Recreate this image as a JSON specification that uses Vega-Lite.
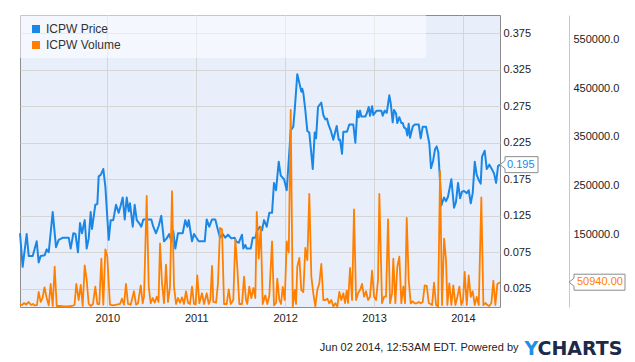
{
  "$schema": "https://vega.github.io/schema/vega-lite/v6.json",
  "width": 480,
  "height": 292,
  "autosize": "none",
  "padding": {"left": 20, "top": 15, "right": 135, "bottom": 55},
  "background": "#ffffff",
  "config": {
    "font": "Liberation Sans",
    "view": {"fill": "#e9effa", "stroke": "#8c8c8c", "strokeWidth": 1},
    "axis": {"labelFont": "Liberation Sans", "labelFontSize": 11, "labelColor": "#222222", "gridColor": "#d5d5d5", "gridOpacity": 1, "ticks": false, "domain": false}
  },
  "datasets": {
    "price": [
      {"year":2009.018,"price":0.101},{"year":2009.048,"price":0.055},{"year":2009.093,"price":0.100},{"year":2009.116,"price":0.070},{"year":2009.161,"price":0.070},{"year":2009.206,"price":0.090},{"year":2009.228,"price":0.061},{"year":2009.251,"price":0.070},{"year":2009.296,"price":0.071},{"year":2009.318,"price":0.079},{"year":2009.341,"price":0.075},{"year":2009.386,"price":0.130},{"year":2009.423,"price":0.082},{"year":2009.453,"price":0.092},{"year":2009.502,"price":0.095},{"year":2009.566,"price":0.095},{"year":2009.588,"price":0.080},{"year":2009.618,"price":0.101},{"year":2009.642,"price":0.100},{"year":2009.670,"price":0.075},{"year":2009.693,"price":0.115},{"year":2009.715,"price":0.101},{"year":2009.746,"price":0.119},{"year":2009.768,"price":0.080},{"year":2009.791,"price":0.094},{"year":2009.813,"price":0.130},{"year":2009.828,"price":0.107},{"year":2009.865,"price":0.140},{"year":2009.888,"price":0.141},{"year":2009.903,"price":0.179},{"year":2009.926,"price":0.181},{"year":2009.955,"price":0.189},{"year":2009.978,"price":0.165},{"year":2010.016,"price":0.092},{"year":2010.038,"price":0.119},{"year":2010.067,"price":0.119},{"year":2010.098,"price":0.140},{"year":2010.128,"price":0.129},{"year":2010.151,"price":0.139},{"year":2010.173,"price":0.150},{"year":2010.196,"price":0.120},{"year":2010.218,"price":0.150},{"year":2010.241,"price":0.131},{"year":2010.255,"price":0.142},{"year":2010.286,"price":0.110},{"year":2010.308,"price":0.140},{"year":2010.331,"price":0.119},{"year":2010.357,"price":0.115},{"year":2010.382,"price":0.110},{"year":2010.405,"price":0.120},{"year":2010.447,"price":0.120},{"year":2010.495,"price":0.120},{"year":2010.517,"price":0.110},{"year":2010.548,"price":0.101},{"year":2010.578,"price":0.111},{"year":2010.607,"price":0.125},{"year":2010.638,"price":0.090},{"year":2010.668,"price":0.094},{"year":2010.697,"price":0.100},{"year":2010.720,"price":0.090},{"year":2010.742,"price":0.104},{"year":2010.765,"price":0.080},{"year":2010.795,"price":0.101},{"year":2010.848,"price":0.101},{"year":2010.877,"price":0.119},{"year":2010.900,"price":0.110},{"year":2010.916,"price":0.119},{"year":2010.953,"price":0.090},{"year":2010.975,"price":0.100},{"year":2011.028,"price":0.090},{"year":2011.096,"price":0.090},{"year":2011.118,"price":0.120},{"year":2011.147,"price":0.110},{"year":2011.178,"price":0.120},{"year":2011.215,"price":0.120},{"year":2011.245,"price":0.105},{"year":2011.268,"price":0.095},{"year":2011.298,"price":0.100},{"year":2011.327,"price":0.095},{"year":2011.358,"price":0.099},{"year":2011.395,"price":0.094},{"year":2011.433,"price":0.095},{"year":2011.448,"price":0.090},{"year":2011.478,"price":0.088},{"year":2011.515,"price":0.099},{"year":2011.530,"price":0.080},{"year":2011.552,"price":0.085},{"year":2011.568,"price":0.080},{"year":2011.613,"price":0.080},{"year":2011.636,"price":0.095},{"year":2011.665,"price":0.095},{"year":2011.687,"price":0.105},{"year":2011.718,"price":0.110},{"year":2011.740,"price":0.105},{"year":2011.763,"price":0.119},{"year":2011.793,"price":0.110},{"year":2011.822,"price":0.129},{"year":2011.853,"price":0.129},{"year":2011.875,"price":0.170},{"year":2011.898,"price":0.160},{"year":2011.928,"price":0.199},{"year":2011.951,"price":0.180},{"year":2011.988,"price":0.175},{"year":2012.018,"price":0.160},{"year":2012.041,"price":0.201},{"year":2012.063,"price":0.242},{"year":2012.092,"price":0.247},{"year":2012.108,"price":0.270},{"year":2012.137,"price":0.319},{"year":2012.160,"price":0.307},{"year":2012.182,"price":0.295},{"year":2012.193,"price":0.299},{"year":2012.205,"price":0.293},{"year":2012.227,"price":0.270},{"year":2012.250,"price":0.241},{"year":2012.272,"price":0.239},{"year":2012.291,"price":0.215},{"year":2012.311,"price":0.189},{"year":2012.333,"price":0.239},{"year":2012.348,"price":0.231},{"year":2012.370,"price":0.274},{"year":2012.407,"price":0.280},{"year":2012.430,"price":0.263},{"year":2012.452,"price":0.257},{"year":2012.471,"price":0.258},{"year":2012.490,"price":0.249},{"year":2012.513,"price":0.242},{"year":2012.542,"price":0.229},{"year":2012.580,"price":0.248},{"year":2012.603,"price":0.229},{"year":2012.618,"price":0.229},{"year":2012.640,"price":0.210},{"year":2012.655,"price":0.240},{"year":2012.696,"price":0.240},{"year":2012.722,"price":0.250},{"year":2012.767,"price":0.250},{"year":2012.790,"price":0.225},{"year":2012.812,"price":0.269},{"year":2012.828,"price":0.260},{"year":2012.843,"price":0.269},{"year":2012.857,"price":0.261},{"year":2012.902,"price":0.261},{"year":2012.918,"price":0.265},{"year":2012.940,"price":0.274},{"year":2012.955,"price":0.262},{"year":2012.978,"price":0.275},{"year":2012.992,"price":0.263},{"year":2013.030,"price":0.269},{"year":2013.082,"price":0.269},{"year":2013.098,"price":0.262},{"year":2013.120,"price":0.269},{"year":2013.143,"price":0.266},{"year":2013.172,"price":0.290},{"year":2013.188,"price":0.279},{"year":2013.210,"price":0.253},{"year":2013.225,"price":0.270},{"year":2013.248,"price":0.265},{"year":2013.262,"price":0.252},{"year":2013.285,"price":0.260},{"year":2013.307,"price":0.252},{"year":2013.323,"price":0.252},{"year":2013.338,"price":0.246},{"year":2013.360,"price":0.244},{"year":2013.375,"price":0.235},{"year":2013.390,"price":0.251},{"year":2013.405,"price":0.232},{"year":2013.435,"price":0.247},{"year":2013.458,"price":0.250},{"year":2013.503,"price":0.250},{"year":2013.525,"price":0.231},{"year":2013.548,"price":0.247},{"year":2013.568,"price":0.247},{"year":2013.585,"price":0.247},{"year":2013.622,"price":0.224},{"year":2013.641,"price":0.190},{"year":2013.664,"price":0.200},{"year":2013.686,"price":0.216},{"year":2013.705,"price":0.220},{"year":2013.723,"price":0.212},{"year":2013.735,"price":0.188},{"year":2013.757,"price":0.139},{"year":2013.787,"price":0.150},{"year":2013.810,"price":0.145},{"year":2013.832,"price":0.151},{"year":2013.870,"price":0.175},{"year":2013.900,"price":0.136},{"year":2013.922,"price":0.144},{"year":2013.945,"price":0.170},{"year":2013.968,"price":0.149},{"year":2013.990,"price":0.158},{"year":2014.012,"price":0.159},{"year":2014.043,"price":0.156},{"year":2014.065,"price":0.160},{"year":2014.088,"price":0.142},{"year":2014.110,"price":0.156},{"year":2014.133,"price":0.199},{"year":2014.155,"price":0.181},{"year":2014.178,"price":0.174},{"year":2014.200,"price":0.169},{"year":2014.215,"price":0.206},{"year":2014.245,"price":0.214},{"year":2014.268,"price":0.189},{"year":2014.297,"price":0.195},{"year":2014.320,"price":0.190},{"year":2014.350,"price":0.183},{"year":2014.373,"price":0.170},{"year":2014.395,"price":0.193},{"year":2014.417,"price":0.195}
    ],
    "volume": [
      {"year":2009.018,"volume":6200},{"year":2009.041,"volume":4100},{"year":2009.063,"volume":8200},{"year":2009.086,"volume":5100},{"year":2009.116,"volume":10300},{"year":2009.142,"volume":4100},{"year":2009.164,"volume":6200},{"year":2009.187,"volume":3100},{"year":2009.209,"volume":4100},{"year":2009.228,"volume":30800},{"year":2009.251,"volume":10300},{"year":2009.271,"volume":18500},{"year":2009.294,"volume":40500},{"year":2009.318,"volume":18500},{"year":2009.341,"volume":3500},{"year":2009.363,"volume":47300},{"year":2009.386,"volume":2100},{"year":2009.408,"volume":82800},{"year":2009.431,"volume":2100},{"year":2009.468,"volume":2100},{"year":2009.513,"volume":1000},{"year":2009.558,"volume":1000},{"year":2009.603,"volume":2100},{"year":2009.631,"volume":4100},{"year":2009.651,"volume":47300},{"year":2009.678,"volume":14400},{"year":2009.701,"volume":45200},{"year":2009.723,"volume":2100},{"year":2009.746,"volume":85700},{"year":2009.768,"volume":55500},{"year":2009.791,"volume":6200},{"year":2009.813,"volume":2100},{"year":2009.839,"volume":6200},{"year":2009.865,"volume":41700},{"year":2009.888,"volume":6200},{"year":2009.910,"volume":6200},{"year":2009.933,"volume":99300},{"year":2009.955,"volume":4700},{"year":2009.978,"volume":118600},{"year":2010.000,"volume":103400},{"year":2010.030,"volume":4700},{"year":2010.064,"volume":3100},{"year":2010.106,"volume":4700},{"year":2010.143,"volume":6200},{"year":2010.165,"volume":17100},{"year":2010.188,"volume":4700},{"year":2010.210,"volume":47300},{"year":2010.233,"volume":6200},{"year":2010.263,"volume":4700},{"year":2010.300,"volume":32300},{"year":2010.323,"volume":4700},{"year":2010.345,"volume":7600},{"year":2010.376,"volume":44600},{"year":2010.398,"volume":7600},{"year":2010.413,"volume":21200},{"year":2010.443,"volume":228100},{"year":2010.466,"volume":41700},{"year":2010.488,"volume":7600},{"year":2010.511,"volume":18500},{"year":2010.533,"volume":8800},{"year":2010.556,"volume":21200},{"year":2010.576,"volume":10300},{"year":2010.593,"volume":130900},{"year":2010.615,"volume":49900},{"year":2010.638,"volume":7600},{"year":2010.660,"volume":86900},{"year":2010.683,"volume":10300},{"year":2010.705,"volume":40500},{"year":2010.728,"volume":237800},{"year":2010.750,"volume":41700},{"year":2010.773,"volume":6200},{"year":2010.795,"volume":18500},{"year":2010.818,"volume":8800},{"year":2010.840,"volume":19900},{"year":2010.863,"volume":6200},{"year":2010.885,"volume":32300},{"year":2010.908,"volume":8800},{"year":2010.930,"volume":6200},{"year":2010.953,"volume":41700},{"year":2010.975,"volume":6200},{"year":2010.994,"volume":6200},{"year":2011.012,"volume":65100},{"year":2011.035,"volume":7600},{"year":2011.065,"volume":28200},{"year":2011.088,"volume":6200},{"year":2011.118,"volume":28200},{"year":2011.141,"volume":6200},{"year":2011.159,"volume":14400},{"year":2011.178,"volume":84300},{"year":2011.192,"volume":10300},{"year":2011.223,"volume":8800},{"year":2011.245,"volume":48700},{"year":2011.268,"volume":162300},{"year":2011.290,"volume":159700},{"year":2011.313,"volume":6200},{"year":2011.343,"volume":6200},{"year":2011.366,"volume":36400},{"year":2011.388,"volume":6200},{"year":2011.417,"volume":14400},{"year":2011.440,"volume":139100},{"year":2011.462,"volume":81600},{"year":2011.485,"volume":6200},{"year":2011.515,"volume":6200},{"year":2011.538,"volume":62300},{"year":2011.560,"volume":14400},{"year":2011.575,"volume":6200},{"year":2011.597,"volume":41700},{"year":2011.620,"volume":18500},{"year":2011.643,"volume":39000},{"year":2011.665,"volume":18500},{"year":2011.681,"volume":195200},{"year":2011.703,"volume":99300},{"year":2011.726,"volume":165000},{"year":2011.748,"volume":6200},{"year":2011.777,"volume":24000},{"year":2011.800,"volume":6200},{"year":2011.822,"volume":22600},{"year":2011.853,"volume":135000},{"year":2011.875,"volume":3500},{"year":2011.898,"volume":8200},{"year":2011.912,"volume":58200},{"year":2011.935,"volume":14400},{"year":2011.954,"volume":6200},{"year":2011.973,"volume":41100},{"year":2011.996,"volume":14400},{"year":2012.018,"volume":135000},{"year":2012.041,"volume":111600},{"year":2012.063,"volume":404800},{"year":2012.086,"volume":1000},{"year":2012.108,"volume":34900},{"year":2012.123,"volume":6200},{"year":2012.137,"volume":82800},{"year":2012.160,"volume":100700},{"year":2012.182,"volume":34900},{"year":2012.205,"volume":30800},{"year":2012.227,"volume":121200},{"year":2012.250,"volume":96600},{"year":2012.272,"volume":232200},{"year":2012.295,"volume":62300},{"year":2012.317,"volume":28200},{"year":2012.340,"volume":1000},{"year":2012.362,"volume":34900},{"year":2012.385,"volume":48700},{"year":2012.407,"volume":88400},{"year":2012.430,"volume":14400},{"year":2012.452,"volume":14400},{"year":2012.475,"volume":17100},{"year":2012.497,"volume":7600},{"year":2012.520,"volume":14400},{"year":2012.542,"volume":1000},{"year":2012.565,"volume":7600},{"year":2012.587,"volume":1000},{"year":2012.610,"volume":30800},{"year":2012.632,"volume":14400},{"year":2012.655,"volume":28200},{"year":2012.674,"volume":8200},{"year":2012.693,"volume":33500},{"year":2012.708,"volume":8200},{"year":2012.730,"volume":80100},{"year":2012.753,"volume":14400},{"year":2012.775,"volume":200800},{"year":2012.798,"volume":14400},{"year":2012.820,"volume":28200},{"year":2012.843,"volume":34900},{"year":2012.865,"volume":47300},{"year":2012.888,"volume":21200},{"year":2012.910,"volume":32300},{"year":2012.933,"volume":14400},{"year":2012.955,"volume":21200},{"year":2012.978,"volume":74600},{"year":2013.000,"volume":21200},{"year":2013.023,"volume":14400},{"year":2013.045,"volume":55500},{"year":2013.060,"volume":232200},{"year":2013.090,"volume":7600},{"year":2013.113,"volume":21200},{"year":2013.135,"volume":21200},{"year":2013.158,"volume":180200},{"year":2013.180,"volume":7600},{"year":2013.203,"volume":28200},{"year":2013.217,"volume":99300},{"year":2013.240,"volume":7600},{"year":2013.262,"volume":82800},{"year":2013.285,"volume":103400},{"year":2013.307,"volume":7600},{"year":2013.330,"volume":41700},{"year":2013.349,"volume":7600},{"year":2013.368,"volume":182900},{"year":2013.390,"volume":55500},{"year":2013.413,"volume":7600},{"year":2013.435,"volume":11700},{"year":2013.458,"volume":7600},{"year":2013.480,"volume":7600},{"year":2013.503,"volume":10300},{"year":2013.525,"volume":7600},{"year":2013.548,"volume":10300},{"year":2013.570,"volume":44600},{"year":2013.593,"volume":43200},{"year":2013.616,"volume":8200},{"year":2013.653,"volume":4100},{"year":2013.675,"volume":49900},{"year":2013.698,"volume":4100},{"year":2013.720,"volume":1000},{"year":2013.743,"volume":278900},{"year":2013.765,"volume":4100},{"year":2013.788,"volume":140400},{"year":2013.810,"volume":96600},{"year":2013.825,"volume":4100},{"year":2013.847,"volume":48700},{"year":2013.870,"volume":4100},{"year":2013.892,"volume":44600},{"year":2013.915,"volume":4100},{"year":2013.937,"volume":20600},{"year":2013.960,"volume":41700},{"year":2013.982,"volume":4100},{"year":2014.001,"volume":14400},{"year":2014.020,"volume":71900},{"year":2014.043,"volume":4100},{"year":2014.065,"volume":65100},{"year":2014.088,"volume":20600},{"year":2014.110,"volume":32300},{"year":2014.133,"volume":4100},{"year":2014.155,"volume":20600},{"year":2014.178,"volume":4100},{"year":2014.207,"volume":225400},{"year":2014.230,"volume":4100},{"year":2014.252,"volume":8200},{"year":2014.275,"volume":4100},{"year":2014.297,"volume":2100},{"year":2014.320,"volume":8200},{"year":2014.342,"volume":54000},{"year":2014.365,"volume":4100},{"year":2014.387,"volume":47300},{"year":2014.417,"volume":50940}
    ]
  },
  "layer": [
    {
      "layer": [
        {
          "data": {"values": [{}]},
          "mark": {"type": "rect", "fill": "#ffffff", "fillOpacity": 0.5},
          "encoding": {
            "x": {"datum": 2009.018, "type": "quantitative", "scale": {"domain": [2009.018, 2014.417], "nice": false, "zero": false}},
            "x2": {"datum": 2013.585},
            "y": {"datum": 0.341, "type": "quantitative", "scale": {"domain": [0, 0.4], "nice": false}},
            "y2": {"datum": 0.4}
          }
        },
        {
          "data": {"name": "price"},
          "mark": {"type": "line", "strokeWidth": 2, "strokeJoin": "round"},
          "encoding": {
            "x": {"field": "year", "type": "quantitative", "scale": {"domain": [2009.018, 2014.417], "nice": false, "zero": false},
              "axis": {"values": [2010, 2011, 2012, 2013, 2014], "format": "d", "grid": true, "labelPadding": 5,
                "title": "Jun 02 2014, 12:53AM EDT.  Powered by", "titleFont": "Liberation Sans", "titleFontSize": 11, "titleFontWeight": "normal", "titleColor": "#222222",
                "titleX": 498, "titleY": 43, "titleAlign": "right", "titleBaseline": "alphabetic", "titleAnchor": "end"}},
            "y": {"field": "price", "type": "quantitative", "scale": {"domain": [0, 0.4], "nice": false},
              "axis": {"orient": "right", "values": [0.025, 0.075, 0.125, 0.175, 0.225, 0.275, 0.325, 0.375], "format": ".3f", "grid": true, "labelPadding": 3,
                "title": "Y", "titleAngle": 0, "titleX": 24, "titleY": 339, "titleAlign": "left", "titleBaseline": "alphabetic",
                "titleFont": "DejaVu Sans", "titleFontSize": 19, "titleFontWeight": "bold", "titleColor": "#1e8fe3"}},
            "color": {"datum": "ICPW Price", "type": "nominal",
              "scale": {"domain": ["ICPW Price", "ICPW Volume"], "range": ["#1a87e6", "#ff8000"]},
              "legend": {"orient": "none", "legendX": 10, "legendY": 8, "title": null, "symbolType": "square", "symbolSize": 64, "symbolStrokeWidth": 0,
                "labelFont": "Liberation Sans", "labelFontSize": 12, "labelColor": "#333333", "labelOffset": 4, "rowPadding": 4, "padding": 0,
                "encode": {"symbols": {"update": {"fill": {"scale": "color", "field": "value"}, "fillOpacity": {"value": 1}, "strokeWidth": {"value": 0}}}}}}
          }
        },
        {
          "data": {"name": "price"},
          "transform": [
            {"joinaggregate": [{"op": "max", "field": "year", "as": "maxYear"}]},
            {"filter": "datum.year === datum.maxYear"}
          ],
          "mark": {"type": "point", "shape": "M0,0L5,-4L5,-8L38,-8L38,8L5,8L5,4Z", "size": 4, "filled": true, "fill": "#ffffff", "stroke": "#8c8c8c", "strokeWidth": 1, "opacity": 1},
          "encoding": {
            "x": {"field": "year", "type": "quantitative"},
            "y": {"field": "price", "type": "quantitative"}
          }
        },
        {
          "data": {"name": "price"},
          "transform": [
            {"joinaggregate": [{"op": "max", "field": "year", "as": "maxYear"}]},
            {"filter": "datum.year === datum.maxYear"}
          ],
          "mark": {"type": "text", "align": "left", "baseline": "middle", "xOffset": 7, "fontSize": 11, "font": "Liberation Sans", "color": "#1a87e6"},
          "encoding": {
            "x": {"field": "year", "type": "quantitative"},
            "y": {"field": "price", "type": "quantitative"},
            "text": {"field": "price", "type": "quantitative", "format": ".3f"}
          }
        }
      ]
    },
    {
      "data": {"name": "volume"},
      "layer": [
        {
          "mark": {"type": "line", "strokeWidth": 1.8, "strokeJoin": "round"},
          "encoding": {
            "x": {"field": "year", "type": "quantitative"},
            "y": {"field": "volume", "type": "quantitative", "scale": {"domain": [0, 600000], "nice": false},
              "axis": {"orient": "right", "offset": 69, "values": [150000, 250000, 350000, 450000, 550000], "format": ".1f", "grid": false,
                "domain": true, "domainColor": "#c8c8c8", "labelPadding": 4,
                "title": "CHARTS", "titleAngle": 0, "titleX": -32, "titleY": 339, "titleAlign": "left", "titleBaseline": "alphabetic",
                "titleFont": "DejaVu Sans", "titleFontSize": 19, "titleFontWeight": "bold", "titleColor": "#1c2a4a"}},
            "color": {"datum": "ICPW Volume", "type": "nominal"}
          }
        },
        {
          "transform": [
            {"joinaggregate": [{"op": "max", "field": "year", "as": "maxYear"}]},
            {"filter": "datum.year === datum.maxYear"}
          ],
          "mark": {"type": "point", "shape": "M0,0L5,-4L5,-8L56,-8L56,8L5,8L5,4Z", "size": 4, "xOffset": 69, "filled": true, "fill": "#ffffff", "stroke": "#8c8c8c", "strokeWidth": 1, "opacity": 1},
          "encoding": {
            "x": {"field": "year", "type": "quantitative"},
            "y": {"field": "volume", "type": "quantitative"}
          }
        },
        {
          "transform": [
            {"joinaggregate": [{"op": "max", "field": "year", "as": "maxYear"}]},
            {"filter": "datum.year === datum.maxYear"}
          ],
          "mark": {"type": "text", "align": "left", "baseline": "middle", "xOffset": 77, "fontSize": 11, "font": "Liberation Sans", "color": "#ff8000"},
          "encoding": {
            "x": {"field": "year", "type": "quantitative"},
            "y": {"field": "volume", "type": "quantitative"},
            "text": {"field": "volume", "type": "quantitative", "format": ".2f"}
          }
        }
      ]
    }
  ],
  "resolve": {"scale": {"y": "independent"}}
}
